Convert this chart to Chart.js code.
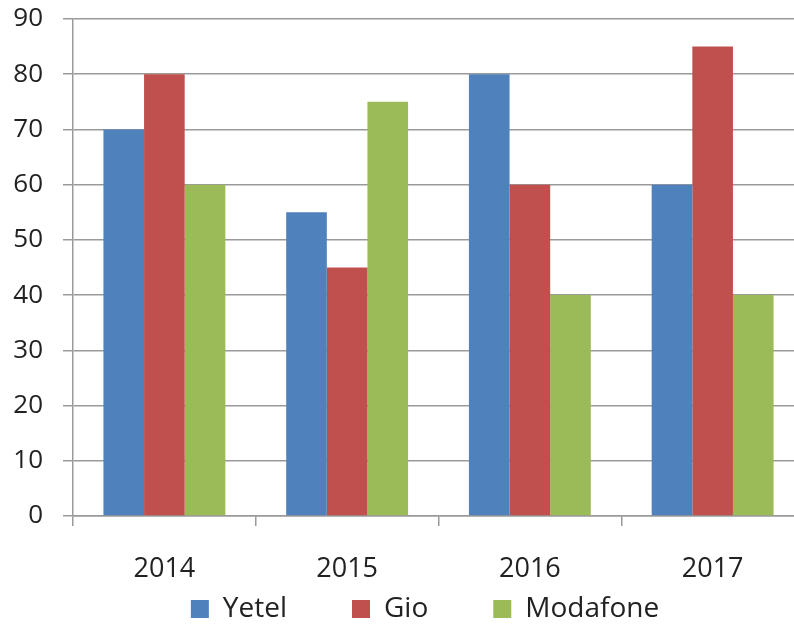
<!DOCTYPE html>
<html>
<head>
<meta charset="utf-8">
<script src="https://cdn.jsdelivr.net/npm/chart.js@4"></script>
<style>
  html, body { margin: 0; padding: 0; background: #fff; overflow: hidden; }
  #wrap { width: 850px; height: 627px; }
</style>
</head>
<body>
<div id="wrap"><canvas id="myChart" width="850" height="627"></canvas></div>
<script>
const years = ['2014', '2015', '2016', '2017'];
const yetel = [70, 55, 80, 60];
const gio = [80, 45, 60, 85];
const modafone = [60, 75, 40, 40];

const gridGray = '#9a9a9a';
const textGray = '#222222';
const legendGap = 65;
const legendFont = 28;

const data = {
  labels: years,
  datasets: [
    { label: 'Yetel', data: yetel, backgroundColor: '#4f81bd' },
    { label: 'Gio', data: gio, backgroundColor: '#c0504d' },
    { label: 'Modafone', data: modafone, backgroundColor: '#9bbb59' },
  ]
};

// the legend padding is used both between items and above them,
// so move the legend box back up after layout
const liftLegend = {
  id: 'liftLegend',
  afterLayout(chart) {
    const lg = chart.legend;
    lg.top = 609 - legendGap - legendFont / 2;
    lg.bottom = chart.height;
    lg.height = lg.bottom - lg.top;
  }
};

const config = {
  type: 'bar',
  data: data,
  plugins: [liftLegend],
  options: {
    responsive: false,
    animation: false,
    devicePixelRatio: 1,
    categoryPercentage: 0.667,
    barPercentage: 1,
    layout: {
      padding: { top: 19, left: 0, right: 0, bottom: 0 }
    },
    plugins: {
      tooltip: { enabled: false },
      legend: {
        position: 'bottom',
        maxHeight: 40,
        labels: {
          color: textGray,
          boxWidth: 18,
          boxHeight: 18,
          padding: legendGap,
          font: { family: 'Open Sans', size: legendFont }
        }
      }
    },
    scales: {
      x: {
        grid: {
          offset: true,
          drawOnChartArea: false,
          tickLength: 10,
          color: gridGray,
          lineWidth: 1.5
        },
        border: { color: gridGray, width: 1.5 },
        ticks: {
          color: textGray,
          padding: 27,
          font: { family: 'Open Sans', size: 27 }
        },
        afterFit: function(scale) { scale.height = 71; }
      },
      y: {
        min: 0,
        max: 90,
        ticks: {
          stepSize: 10,
          color: textGray,
          padding: 20,
          font: { family: 'Open Sans', size: 26 }
        },
        grid: {
          tickLength: 10,
          color: gridGray,
          lineWidth: 1.5
        },
        border: { color: gridGray, width: 1.5 },
        afterFit: function(scale) {
          scale.width = 73;
          scale.paddingTop = 0;
          scale.paddingBottom = 0;
        }
      },
      // empty axis on the right keeps the plot wider than the window
      side: {
        type: 'linear',
        position: 'right',
        grid: { display: false },
        border: { display: false },
        ticks: { display: false },
        afterFit: function(scale) { scale.width = 46; }
      }
    }
  }
};

const myChart = new Chart(
  document.getElementById('myChart'),
  config
);
</script>
</body>
</html>
